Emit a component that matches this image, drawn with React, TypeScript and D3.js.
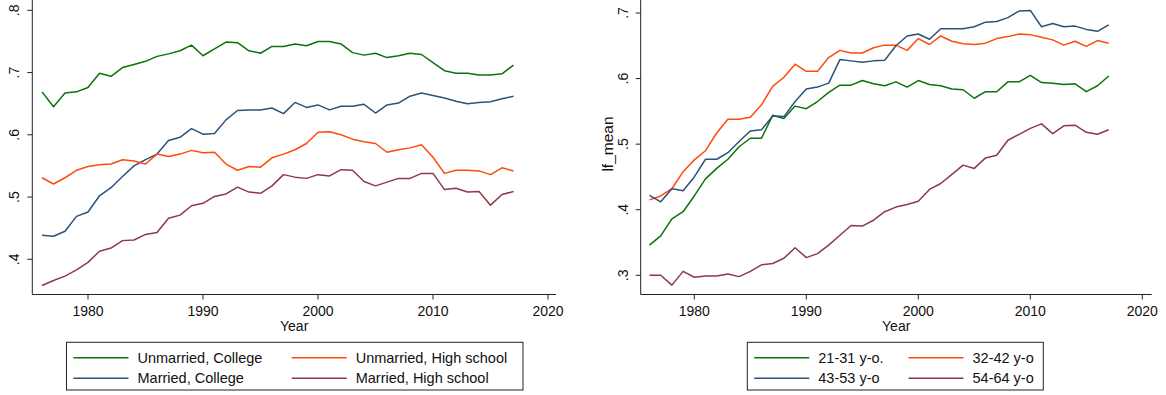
import React from "react";
import * as d3 from "d3";

const years: number[] = d3.range(1976, 2018);

// Left panel: by marital status & education
const unmarriedCollege = [0.669,0.645,0.667,0.669,0.676,0.699,0.694,0.708,0.713,0.718,0.726,0.730,0.735,0.744,0.727,0.738,0.749,0.748,0.735,0.731,0.742,0.742,0.746,0.743,0.750,0.750,0.746,0.732,0.728,0.731,0.724,0.727,0.731,0.729,0.716,0.703,0.699,0.699,0.696,0.696,0.698,0.712];
const marriedCollege = [0.4385,0.437,0.445,0.469,0.476,0.502,0.515,0.533,0.550,0.560,0.569,0.591,0.596,0.610,0.601,0.602,0.624,0.639,0.640,0.640,0.643,0.634,0.652,0.644,0.648,0.640,0.646,0.646,0.649,0.635,0.648,0.651,0.662,0.667,0.663,0.659,0.654,0.650,0.652,0.653,0.658,0.662];
const unmarriedHS = [0.531,0.521,0.531,0.543,0.549,0.552,0.553,0.560,0.558,0.553,0.569,0.565,0.569,0.575,0.571,0.572,0.553,0.543,0.549,0.548,0.563,0.569,0.576,0.586,0.604,0.605,0.600,0.593,0.589,0.586,0.572,0.576,0.579,0.584,0.564,0.538,0.543,0.543,0.542,0.536,0.547,0.542];
const marriedHS = [0.358,0.366,0.373,0.383,0.395,0.413,0.418,0.430,0.431,0.440,0.443,0.466,0.471,0.486,0.490,0.501,0.505,0.516,0.508,0.506,0.518,0.536,0.532,0.530,0.536,0.534,0.544,0.543,0.525,0.518,0.524,0.530,0.530,0.538,0.538,0.512,0.514,0.508,0.509,0.487,0.504,0.509];

// Right panel: by age group
const age21_31 = [0.346,0.360,0.386,0.397,0.421,0.447,0.463,0.477,0.496,0.509,0.509,0.544,0.539,0.558,0.554,0.565,0.579,0.590,0.590,0.597,0.592,0.589,0.595,0.587,0.597,0.591,0.589,0.584,0.583,0.570,0.580,0.580,0.595,0.595,0.605,0.594,0.593,0.591,0.592,0.580,0.589,0.604];
const age32_42 = [0.415,0.421,0.432,0.458,0.476,0.490,0.517,0.538,0.538,0.541,0.560,0.588,0.602,0.622,0.611,0.611,0.632,0.643,0.639,0.639,0.647,0.651,0.651,0.643,0.661,0.652,0.665,0.657,0.653,0.652,0.654,0.661,0.664,0.668,0.667,0.663,0.659,0.651,0.657,0.649,0.658,0.654];
const age43_53 = [0.422,0.412,0.432,0.429,0.450,0.477,0.477,0.487,0.504,0.520,0.522,0.543,0.542,0.565,0.584,0.587,0.593,0.629,0.627,0.625,0.627,0.628,0.650,0.665,0.668,0.660,0.676,0.676,0.676,0.679,0.686,0.687,0.693,0.703,0.704,0.679,0.684,0.679,0.680,0.675,0.672,0.682];
const age54_64 = [0.300,0.300,0.285,0.306,0.297,0.299,0.299,0.302,0.298,0.306,0.316,0.318,0.326,0.342,0.327,0.333,0.346,0.361,0.376,0.375,0.384,0.397,0.404,0.408,0.413,0.431,0.440,0.454,0.468,0.463,0.479,0.483,0.506,0.515,0.524,0.531,0.516,0.528,0.529,0.518,0.515,0.522];

const xTicks = [1980, 1990, 2000, 2010, 2020];
const leftYTicks = [0.4, 0.5, 0.6, 0.7, 0.8];
const rightYTicks = [0.3, 0.4, 0.5, 0.6, 0.7];
const leftLabels = ["Unmarried, College", "Unmarried, High school", "Married, College", "Married, High school"];
const rightLabels = ["21-31 y-o.", "32-42 y-o", "43-53 y-o", "54-64 y-o"];

const GREEN = "#0b730b";
const ORANGE = "#ff4a0a";
const BLUE = "#2b5279";
const MAROON = "#8e3a46";
const FONT = "'Liberation Sans', Arial, Helvetica, sans-serif";

type Series = { values: number[]; color: string };

type PanelProps = {
  series: Series[];
  yTicks: number[];
  yDomain: [number, number];
  yRange: [number, number];
  xRange: [number, number];
  axisX: number;
  axisRight: number;
  yTitle?: string;
  legend: { labels: string[]; colors: string[]; box: [number, number, number, number]; col2: number };
};

const fmt = (v: number) => {
  const s = v.toFixed(1);
  return s.startsWith("0") ? s.slice(1) : s;
};

function Panel(p: PanelProps) {
  const x = d3.scaleLinear().domain([1980, 2020]).range(p.xRange);
  const y = d3.scaleLinear().domain(p.yDomain).range(p.yRange);
  const baseY = 294.5;
  const line = (vals: number[]) =>
    d3.line<number>().x((_, i) => x(years[i])).y((d) => y(d))(vals) || "";
  const [bx, by, bw, bh] = p.legend.box;
  const rows = [357.7, 378.3];
  const lgX = [bx + 7, p.legend.col2];
  return (
    <g>
      {p.series.map((s, i) => (
        <path key={i} d={line(s.values)} fill="none" stroke={s.color} strokeWidth={1.5} strokeLinejoin="round" />
      ))}
      <line x1={p.axisX} x2={p.axisX} y1={0} y2={baseY} stroke="#222" strokeWidth={1} />
      <line x1={p.axisX} x2={p.axisRight} y1={baseY} y2={baseY} stroke="#222" strokeWidth={1} />
      {p.yTicks.map((t) => (
        <g key={t}>
          <line x1={p.axisX - 5} x2={p.axisX} y1={y(t)} y2={y(t)} stroke="#222" />
          <text
            transform={`translate(${p.axisX - 13},${y(t)}) rotate(-90)`}
            textAnchor="middle"
            fontSize={14}
            fontFamily={FONT}
            fill="#111"
          >
            {fmt(t)}
          </text>
        </g>
      ))}
      {xTicks.map((t) => (
        <g key={t}>
          <line x1={x(t)} x2={x(t)} y1={baseY} y2={baseY + 5} stroke="#222" />
          <text x={x(t)} y={315.5} textAnchor="middle" fontSize={14} fontFamily={FONT} fill="#111">
            {t}
          </text>
        </g>
      ))}
      <text x={(p.axisX + p.axisRight) / 2} y={331} textAnchor="middle" fontSize={14} fontFamily={FONT} fill="#111">
        Year
      </text>
      {p.yTitle && (
        <text transform={`translate(613,144) rotate(-90)`} textAnchor="middle" fontSize={15.5} fontFamily={FONT} fill="#111">
          {p.yTitle}
        </text>
      )}
      <rect x={bx} y={by} width={bw} height={bh} fill="none" stroke="#222" strokeWidth={1} />
      {p.legend.labels.map((lab, i) => {
        const col = i % 2;
        const row = Math.floor(i / 2);
        const lx = lgX[col];
        return (
          <g key={lab}>
            <line x1={lx} x2={lx + 55} y1={rows[row]} y2={rows[row]} stroke={p.legend.colors[i]} strokeWidth={1.5} />
            <text x={lx + 64} y={rows[row] + 5} fontSize={14.5} fontFamily={FONT} fill="#111">
              {lab}
            </text>
          </g>
        );
      })}
    </g>
  );
}

export default function App() {
  return (
    <svg
      width={1166}
      height={395}
      style={{ position: "absolute", left: 0, top: 0, background: "#fff" }}
    >
      <rect width={1166} height={395} fill="#fff" />
      <Panel
        series={[
          { values: unmarriedCollege, color: GREEN },
          { values: marriedCollege, color: BLUE },
          { values: unmarriedHS, color: ORANGE },
          { values: marriedHS, color: MAROON },
        ]}
        yTicks={leftYTicks}
        yDomain={[0.4, 0.8]}
        yRange={[259.3, 10.3]}
        xRange={[88, 548]}
        axisX={32.3}
        axisRight={556}
        legend={{ labels: leftLabels, colors: [GREEN, ORANGE, BLUE, MAROON], box: [66.5, 342.3, 456.5, 47.7], col2: 291.7 }}
      />
      <Panel
        series={[
          { values: age21_31, color: GREEN },
          { values: age32_42, color: ORANGE },
          { values: age43_53, color: BLUE },
          { values: age54_64, color: MAROON },
        ]}
        yTicks={rightYTicks}
        yDomain={[0.3, 0.7]}
        yRange={[275.3, 13]}
        xRange={[694.3, 1142.3]}
        axisX={640.7}
        axisRight={1151.7}
        yTitle="lf_mean"
        legend={{ labels: rightLabels, colors: [GREEN, ORANGE, BLUE, MAROON], box: [747.3, 342.3, 296, 47.7], col2: 908.5 }}
      />
    </svg>
  );
}
